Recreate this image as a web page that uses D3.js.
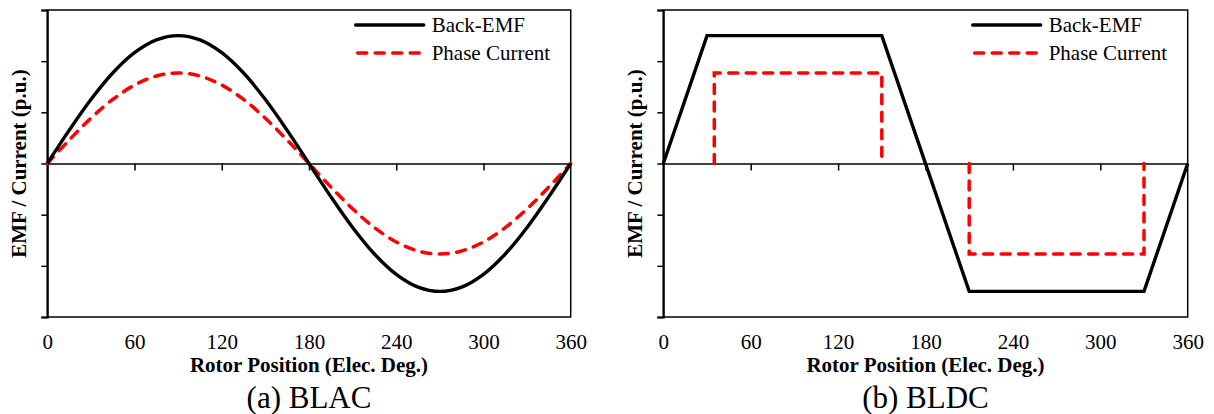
<!doctype html>
<html>
<head>
<meta charset="utf-8">
<script src="https://d3js.org/d3.v7.min.js"></script>
<style>
  body { margin: 0; background: #fff; }
</style>
</head>
<body>
<div id="chart"></div>
<script>
// ---- data ----
var xTicks = [0, 60, 120, 180, 240, 300, 360];
var yTicks = [-3, -2, -1, 0, 1, 2, 3];

// BLAC: sampled every 15 elec. deg
var blacDeg = [0, 15, 30, 45, 60, 75, 90, 105, 120, 135, 150, 165, 180,
               195, 210, 225, 240, 255, 270, 285, 300, 315, 330, 345, 360];
var blacEmf = [0, 0.647, 1.25, 1.768, 2.165, 2.415, 2.5, 2.415, 2.165, 1.768, 1.25, 0.647, 0,
               -0.647, -1.25, -1.768, -2.165, -2.415, -2.5, -2.415, -2.165, -1.768, -1.25, -0.647, 0];
var blacCur = [0, 0.458, 0.885, 1.252, 1.533, 1.71, 1.77, 1.71, 1.533, 1.252, 0.885, 0.458, 0,
               -0.458, -0.885, -1.252, -1.533, -1.71, -1.77, -1.71, -1.533, -1.252, -0.885, -0.458, 0];

// BLDC: trapezoidal emf, square current blocks
var bldcEmfDeg = [0, 30, 150, 210, 330, 360];
var bldcEmf    = [0, 2.5, 2.5, -2.5, -2.5, 0];
var bldcCurPosDeg = [35, 35, 150, 150];
var bldcCurPos    = [0, 1.77, 1.77, 0];
var bldcCurNegDeg = [210, 210, 330, 330];
var bldcCurNeg    = [0, -1.77, -1.77, 0];

var legendNames = ["Back-EMF", "Phase Current"];

var FONT = "Liberation Serif";
var DASH = "9,8.5";

function zip(a, b) { return a.map(function(d, i) { return [d, b[i]]; }); }

var svg = d3.select("#chart").append("svg")
  .attr("width", 1214).attr("height", 414)
  .attr("font-family", FONT);

function panel(left, right, caption, emfLines, curLines, smooth) {
  var top = 10, bottom = 317;
  var x = d3.scaleLinear().domain([0, 360]).range([left, right]);
  var y = d3.scaleLinear().domain([-3, 3]).range([bottom, top]);
  var g = svg.append("g");

  // frame
  g.append("rect")
    .attr("x", left).attr("y", top)
    .attr("width", right - left).attr("height", bottom - top)
    .attr("fill", "none").attr("stroke", "#000").attr("stroke-width", 1.5);

  // y axis ticks (no labels)
  g.append("g")
    .attr("transform", "translate(" + left + ",0)")
    .call(d3.axisLeft(y).tickValues(yTicks).tickSize(6).tickFormat(""))
    .call(function(a) {
      a.selectAll("line").attr("stroke-width", 1.5);
      a.select(".domain").attr("stroke-width", 2);
    });

  // zero line with downward ticks
  g.append("g")
    .attr("transform", "translate(0," + y(0) + ")")
    .call(d3.axisBottom(x).tickValues(xTicks.slice(1, -1)).tickSize(7).tickSizeOuter(0).tickFormat(""))
    .call(function(a) {
      a.selectAll("line").attr("stroke-width", 1.5);
      a.select(".domain").attr("stroke-width", 1.5);
    });

  // x tick labels, below frame
  g.append("g")
    .attr("transform", "translate(0," + bottom + ")")
    .call(d3.axisBottom(x).tickValues(xTicks).tickSize(0).tickPadding(17))
    .call(function(a) {
      a.attr("font-family", FONT).attr("font-size", 21);
      a.select(".domain").remove();
      a.selectAll("text").attr("fill", "#000");
    });

  var line = d3.line()
    .x(function(d) { return x(d[0]); })
    .y(function(d) { return y(d[1]); });
  if (smooth) line.curve(d3.curveCatmullRom);

  curLines.forEach(function(pts) {
    g.append("path").datum(pts)
      .attr("d", line).attr("fill", "none")
      .attr("stroke", "#ff0000").attr("stroke-width", 3.5)
      .attr("stroke-linecap", "round")
      .attr("stroke-dasharray", DASH);
  });
  emfLines.forEach(function(pts) {
    g.append("path").datum(pts)
      .attr("d", line).attr("fill", "none")
      .attr("stroke", "#000").attr("stroke-width", 3.4)
      .attr("stroke-linejoin", "miter");
  });

  // legend
  var lx = right - 215;
  legendNames.forEach(function(name, i) {
    var ly = 25 + i * 28;
    g.append("line")
      .attr("x1", i === 0 ? lx : lx + 2).attr("x2", lx + 68).attr("y1", ly).attr("y2", ly)
      .attr("stroke", i === 0 ? "#000" : "#ff0000")
      .attr("stroke-width", i === 0 ? 3.4 : 3.5)
      .attr("stroke-linecap", i === 0 ? "round" : "round")
      .attr("stroke-dasharray", i === 0 ? null : DASH);
    g.append("text")
      .attr("x", lx + 76).attr("y", ly).attr("dy", "0.35em")
      .attr("font-family", FONT).attr("font-size", 21)
      .text(name);
  });

  // axis titles
  g.append("text")
    .attr("x", (left + right) / 2).attr("y", 365).attr("dy", "0.35em")
    .attr("text-anchor", "middle")
    .attr("font-family", FONT).attr("font-size", 21).attr("font-weight", "bold")
    .text("Rotor Position (Elec. Deg.)");
  g.append("text")
    .attr("transform", "translate(" + (left - 29) + "," + ((top + bottom) / 2) + ") rotate(-90)")
    .attr("dy", "0.35em")
    .attr("text-anchor", "middle")
    .attr("font-family", FONT).attr("font-size", 21).attr("font-weight", "bold")
    .text("EMF / Current (p.u.)");

  // caption
  g.append("text")
    .attr("x", (left + right) / 2).attr("y", 397).attr("dy", "0.35em")
    .attr("text-anchor", "middle")
    .attr("font-family", FONT).attr("font-size", 31)
    .text(caption);
}

panel(47.3, 570.7, "(a) BLAC",
  [zip(blacDeg, blacEmf)], [zip(blacDeg, blacCur)], true);
panel(663.3, 1187.7, "(b) BLDC",
  [zip(bldcEmfDeg, bldcEmf)],
  [zip(bldcCurPosDeg, bldcCurPos), zip(bldcCurNegDeg, bldcCurNeg)], false);
</script>
</body>
</html>
